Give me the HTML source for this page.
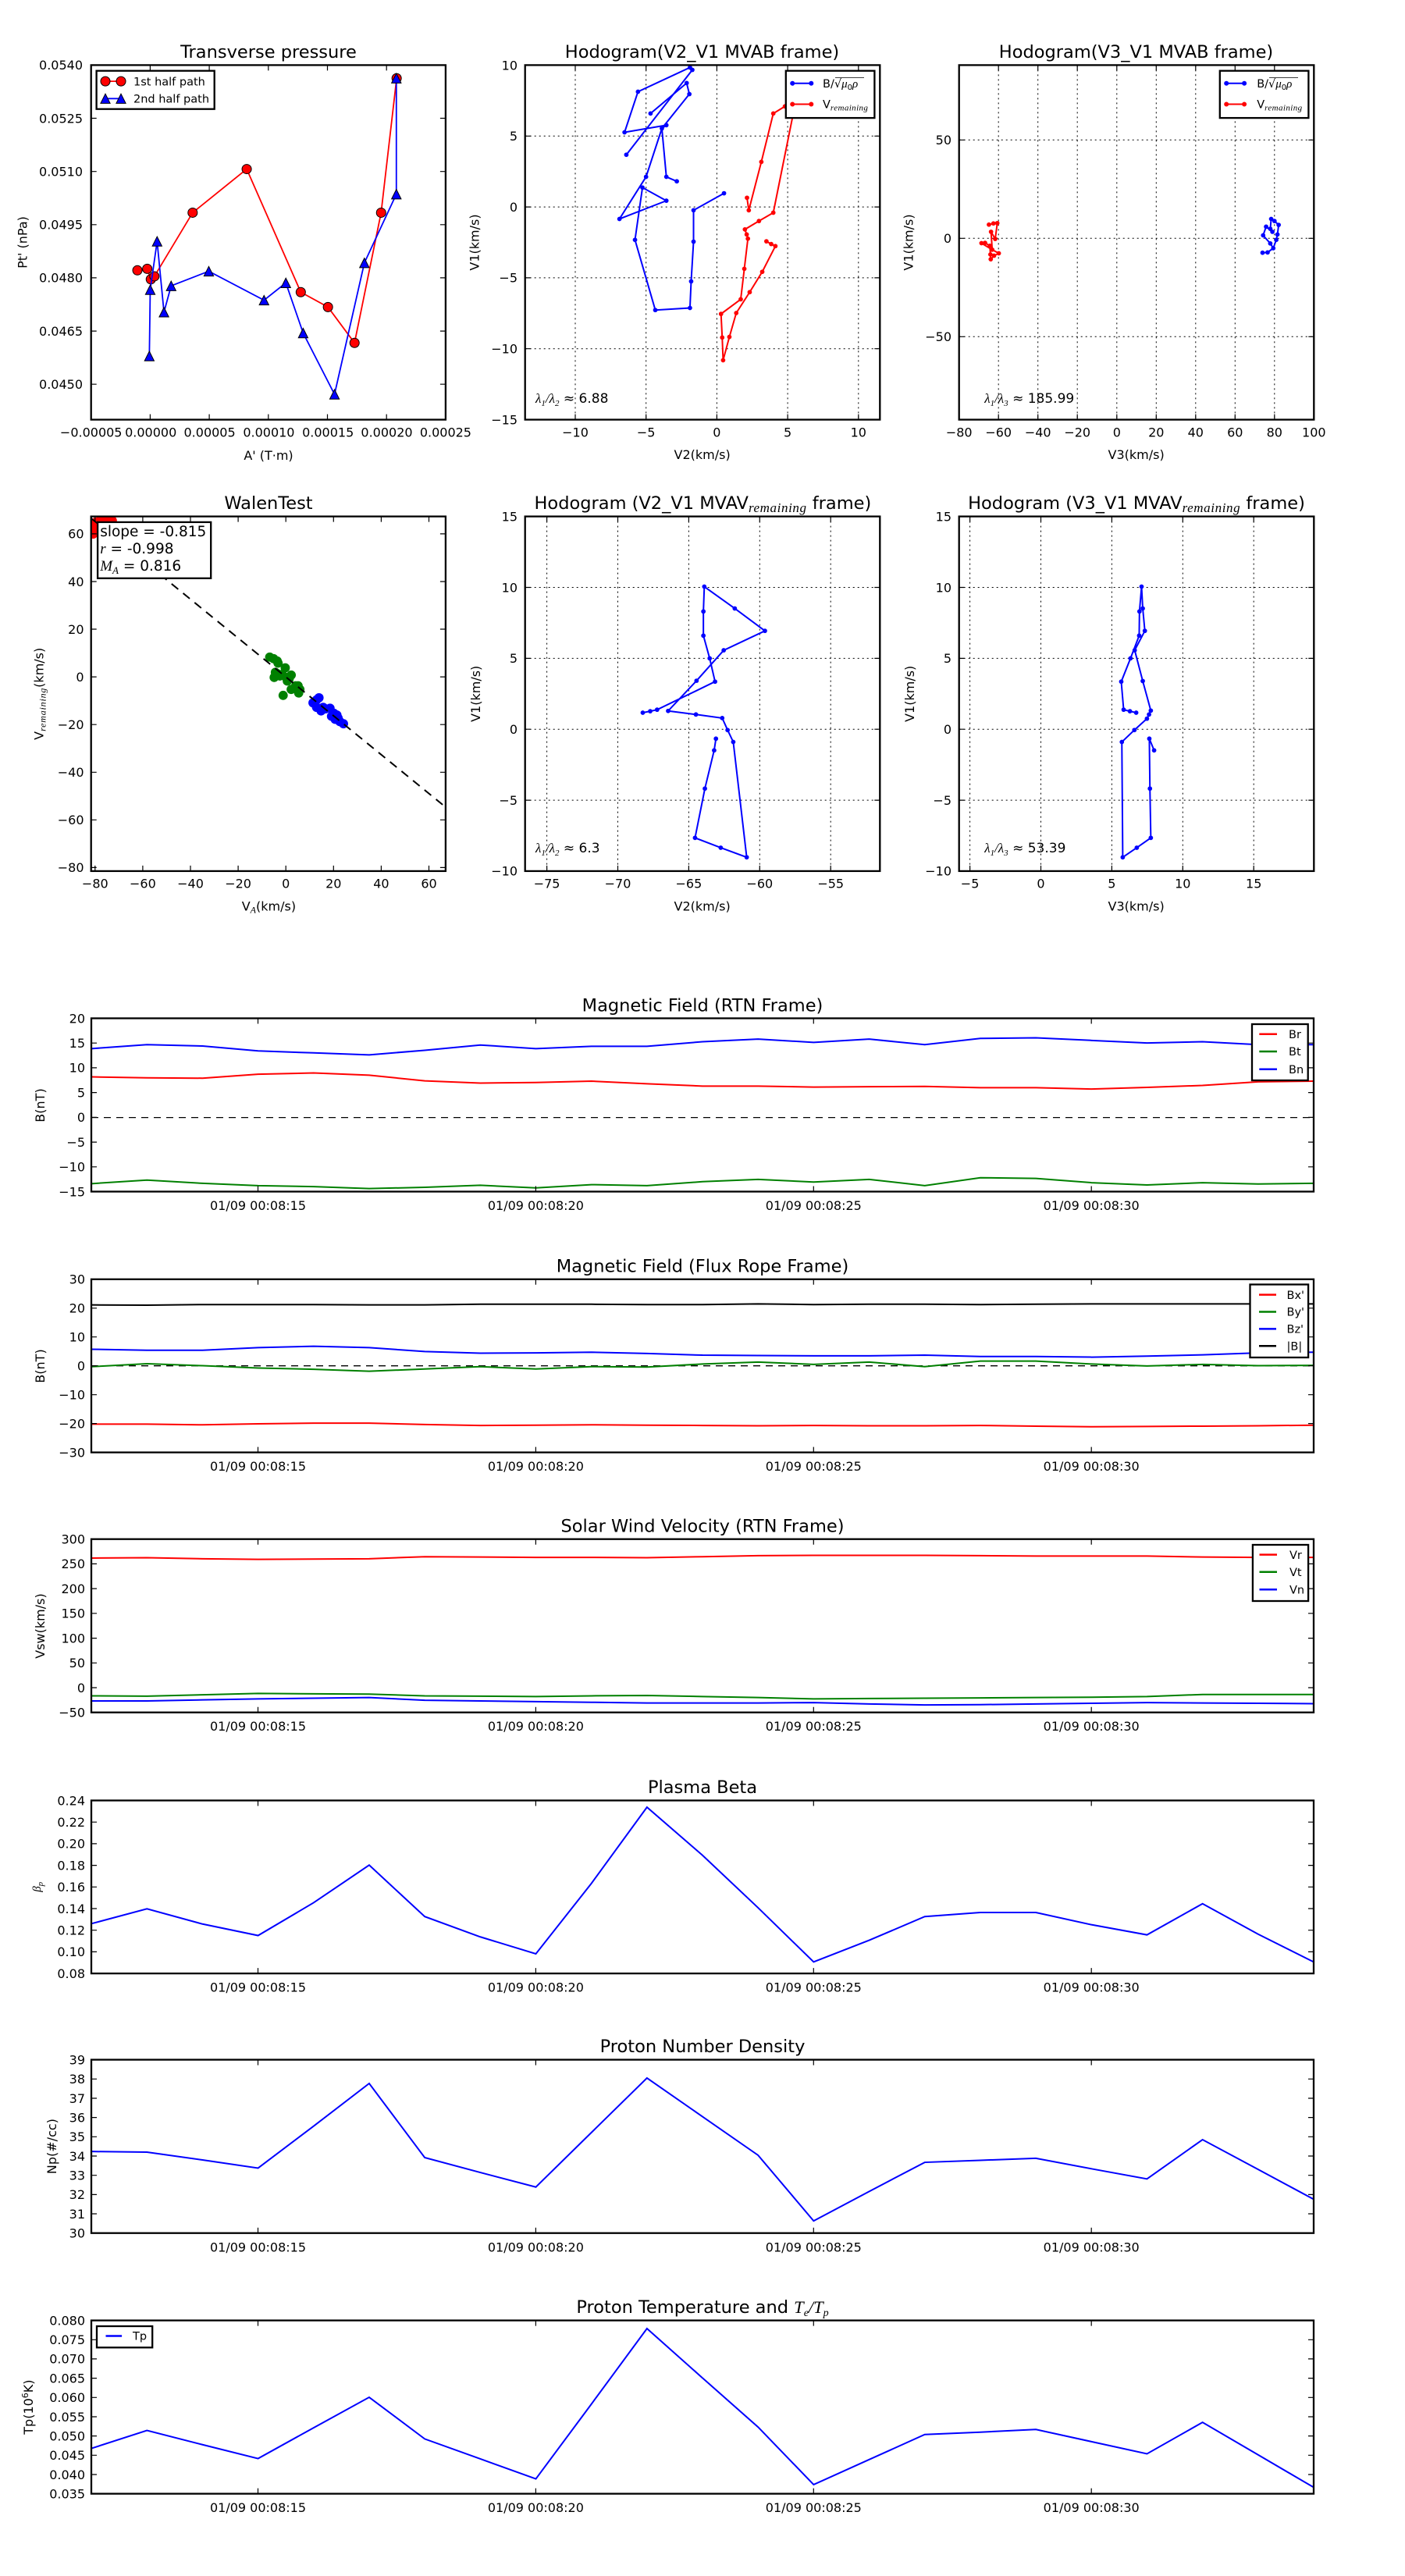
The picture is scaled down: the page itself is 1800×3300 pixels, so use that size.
<!DOCTYPE html>
<html><head><meta charset="utf-8"><title>Flux rope analysis</title>
<style>
html,body{margin:0;padding:0;background:#fff;}
svg{display:block;}
.z *{vector-effect:non-scaling-stroke;}
.ax{fill:none;stroke:#000;stroke-width:2.3;}
.tk{fill:none;stroke:#000;stroke-width:1.2;}
.gr{fill:none;stroke:#000;stroke-width:1;stroke-dasharray:2 4;}
.t16{font-size:16px;}
.title{font-size:22.5px;text-anchor:middle;}
.m{font-family:'Liberation Serif',serif;font-style:italic;}
.lg{font-size:14.5px;}
.dl{fill:none;stroke-width:2;}
</style></head>
<body>
<svg xmlns="http://www.w3.org/2000/svg" width="1800" height="3300" viewBox="0 0 1800 3300" font-family="'DejaVu Sans','Liberation Sans',sans-serif">
<defs>
<clipPath id="cw"><rect x="116.7" y="661.6" width="454.2" height="454.3"/></clipPath>
</defs>
<rect width="1800" height="3300" fill="#fff"/>

<!-- ================= PLOT 1: Transverse pressure ================= -->
<g class="z" transform="translate(0,0) scale(0.38265)">
<polyline fill="none" stroke="#f00" stroke-width="1.8" points="460,905 493,900 505,935 517,925 645,712 826,566 1007,978 1098,1028 1187,1148 1276,712 1328,262"/>
<g fill="#f00" stroke="#000" stroke-width="1">
<circle cx="460" cy="905" r="15.7"/><circle cx="493" cy="900" r="15.7"/><circle cx="505" cy="935" r="15.7"/><circle cx="517" cy="925" r="15.7"/><circle cx="645" cy="712" r="15.7"/><circle cx="826" cy="566" r="15.7"/><circle cx="1007" cy="978" r="15.7"/><circle cx="1098" cy="1028" r="15.7"/><circle cx="1187" cy="1148" r="15.7"/><circle cx="1276" cy="712" r="15.7"/><circle cx="1328" cy="262" r="15.7"/>
</g>
<polyline fill="none" stroke="#00f" stroke-width="1.8" points="500,1192 503,970 526,808 549,1045 573,957 699,908 884,1005 957,947 1015,1115 1120,1320 1220,880 1327,650 1327,262"/>
<g fill="#00f" stroke="#000" stroke-width="1">
<polygon points="500,1176 484,1208 516,1208"/><polygon points="503,954 487,986 519,986"/><polygon points="526,792 510,824 542,824"/><polygon points="549,1029 533,1061 565,1061"/><polygon points="573,941 557,973 589,973"/><polygon points="699,892 683,924 715,924"/><polygon points="884,989 868,1021 900,1021"/><polygon points="957,931 941,963 973,963"/><polygon points="1015,1099 999,1131 1031,1131"/><polygon points="1120,1304 1104,1336 1136,1336"/><polygon points="1220,864 1204,896 1236,896"/><polygon points="1327,634 1311,666 1343,666"/><polygon points="1327,246 1311,278 1343,278"/>
</g>
</g>
<rect class="ax" x="116.7" y="83.4" width="454.2" height="454.2"/>
<path class="tk" d="M192.4 537.6v-7M268.1 537.6v-7M343.8 537.6v-7M419.5 537.6v-7M495.2 537.6v-7M192.4 83.4v7M268.1 83.4v7M343.8 83.4v7M419.5 83.4v7M495.2 83.4v7M116.7 151.5h7M116.7 219.7h7M116.7 287.8h7M116.7 355.9h7M116.7 424.1h7M116.7 492.2h7M570.9 151.5h-7M570.9 219.7h-7M570.9 287.8h-7M570.9 355.9h-7M570.9 424.1h-7M570.9 492.2h-7"/>
<!-- legend -->
<rect x="123.6" y="90.7" width="151.1" height="49" fill="#fff" stroke="#000" stroke-width="2.3"/>
<line x1="135" y1="104.1" x2="155" y2="104.1" stroke="#f00" stroke-width="1.8"/>
<circle cx="135" cy="104.1" r="6" fill="#f00" stroke="#000"/><circle cx="155" cy="104.1" r="6" fill="#f00" stroke="#000"/>
<line x1="135" y1="126.3" x2="155" y2="126.3" stroke="#00f" stroke-width="1.8"/>
<polygon points="135,120.2 128.9,132.4 141.1,132.4" fill="#00f" stroke="#000"/><polygon points="155,120.2 148.9,132.4 161.1,132.4" fill="#00f" stroke="#000"/>
<text class="lg" x="171" y="109.3">1st half path</text>
<text class="lg" x="171" y="131.5">2nd half path</text>
<text class="title" x="344" y="74">Transverse pressure</text>
<g class="t16" text-anchor="end">
<text x="106" y="89.2">0.0540</text><text x="106" y="157.3">0.0525</text><text x="106" y="225.5">0.0510</text><text x="106" y="293.6">0.0495</text><text x="106" y="361.7">0.0480</text><text x="106" y="429.9">0.0465</text><text x="106" y="498">0.0450</text>
</g>
<g class="t16" text-anchor="middle">
<text x="116.7" y="559.5">−0.00005</text><text x="193.2" y="559.5">0.00000</text><text x="268.6" y="559.5">0.00005</text><text x="344.4" y="559.5">0.00010</text><text x="420.2" y="559.5">0.00015</text><text x="495.5" y="559.5">0.00020</text><text x="570.9" y="559.5">0.00025</text>
<text x="344" y="589">A' (T·m)</text>
<text transform="translate(34.5,310.5) rotate(-90)">Pt' (nPa)</text>
</g>

<!-- ================= PLOT 2: Hodogram V2_V1 MVAB ================= -->
<path class="gr" d="M737 83.4V537.6M827.7 83.4V537.6M918.4 83.4V537.6M1009.1 83.4V537.6M1099.8 83.4V537.6M672.7 174.3H1127.3M672.7 265.1H1127.3M672.7 355.9H1127.3M672.7 446.7H1127.3"/>
<g class="z" transform="translate(600,0) scale(0.38265)">
<polyline class="dl" stroke="#00f" points="529,518 750,234 742,226 568,307 523,443 663,419 648,430 663,592 698,607"/>
<polyline class="dl" stroke="#00f" points="610,380 731,278 740,315 648,430 595,592 506,733 663,672 583,628 558,803 626,1038 742,1031 746,942 754,809 754,704 856,647"/>
<g fill="#00f">
<circle cx="529" cy="518" r="7.5"/><circle cx="750" cy="234" r="7.5"/><circle cx="742" cy="226" r="7.5"/><circle cx="568" cy="307" r="7.5"/><circle cx="523" cy="443" r="7.5"/><circle cx="663" cy="419" r="7.5"/><circle cx="648" cy="430" r="7.5"/><circle cx="663" cy="592" r="7.5"/><circle cx="698" cy="607" r="7.5"/><circle cx="610" cy="380" r="7.5"/><circle cx="731" cy="278" r="7.5"/><circle cx="740" cy="315" r="7.5"/><circle cx="595" cy="592" r="7.5"/><circle cx="506" cy="733" r="7.5"/><circle cx="663" cy="672" r="7.5"/><circle cx="583" cy="628" r="7.5"/><circle cx="558" cy="803" r="7.5"/><circle cx="626" cy="1038" r="7.5"/><circle cx="742" cy="1031" r="7.5"/><circle cx="746" cy="942" r="7.5"/><circle cx="754" cy="809" r="7.5"/><circle cx="754" cy="704" r="7.5"/><circle cx="856" cy="647" r="7.5"/>
</g>
<polyline class="dl" stroke="#f00" points="933,662 939,704 981,542 1021,380 1060,356 1110,270 1021,712 973,740 926,768 932,785 936,799 924,900 912,1002 846,1051 850,1130 853,1206 874,1128 897,1048 942,978 984,910 1028,824 1014,817 998,808"/>
<g fill="#f00">
<circle cx="933" cy="662" r="7.5"/><circle cx="939" cy="704" r="7.5"/><circle cx="981" cy="542" r="7.5"/><circle cx="1021" cy="380" r="7.5"/><circle cx="1060" cy="356" r="7.5"/><circle cx="1021" cy="712" r="7.5"/><circle cx="973" cy="740" r="7.5"/><circle cx="926" cy="768" r="7.5"/><circle cx="932" cy="785" r="7.5"/><circle cx="936" cy="799" r="7.5"/><circle cx="924" cy="900" r="7.5"/><circle cx="912" cy="1002" r="7.5"/><circle cx="846" cy="1051" r="7.5"/><circle cx="850" cy="1130" r="7.5"/><circle cx="853" cy="1206" r="7.5"/><circle cx="874" cy="1128" r="7.5"/><circle cx="897" cy="1048" r="7.5"/><circle cx="942" cy="978" r="7.5"/><circle cx="984" cy="910" r="7.5"/><circle cx="1028" cy="824" r="7.5"/><circle cx="1014" cy="817" r="7.5"/><circle cx="998" cy="808" r="7.5"/>
</g>
</g>
<rect class="ax" x="672.7" y="83.4" width="454.6" height="454.2"/>
<path class="tk" d="M737 537.6v-7M827.7 537.6v-7M918.4 537.6v-7M1009.1 537.6v-7M1099.8 537.6v-7M737 83.4v7M827.7 83.4v7M918.4 83.4v7M1009.1 83.4v7M1099.8 83.4v7M672.7 174.3h7M672.7 265.1h7M672.7 355.9h7M672.7 446.7h7M1127.3 174.3h-7M1127.3 265.1h-7M1127.3 355.9h-7M1127.3 446.7h-7"/>
<rect x="1006.8" y="90.7" width="113.6" height="60.4" fill="#fff" stroke="#000" stroke-width="2.3"/>
<line x1="1015.2" y1="106.8" x2="1039.3" y2="106.8" stroke="#00f" stroke-width="2"/>
<circle cx="1015.2" cy="106.8" r="3" fill="#00f"/><circle cx="1039.3" cy="106.8" r="3" fill="#00f"/>
<line x1="1015.2" y1="133.5" x2="1039.3" y2="133.5" stroke="#f00" stroke-width="2"/>
<circle cx="1015.2" cy="133.5" r="3" fill="#f00"/><circle cx="1039.3" cy="133.5" r="3" fill="#f00"/>
<text font-size="14.5" x="1054" y="112">B/√<tspan class="m" font-size="15">μ</tspan><tspan font-size="10" dy="3">0</tspan><tspan class="m" font-size="15" dy="-3">ρ</tspan></text>
<line x1="1070" y1="99.5" x2="1107" y2="99.5" stroke="#000" stroke-width="0.8"/>
<text font-size="14.5" x="1054" y="138.5">V<tspan class="m" font-size="11" letter-spacing="0.4" dy="3">remaining</tspan></text>
<text font-size="17" x="686" y="516"><tspan class="m">λ</tspan><tspan class="m" font-size="11" dy="4">1</tspan><tspan class="m" dy="-4">/</tspan><tspan class="m">λ</tspan><tspan class="m" font-size="11" dy="4">2</tspan><tspan dy="-4"> ≈ 6.88</tspan></text>
<text class="title" x="899.5" y="74">Hodogram(V2_V1 MVAB frame)</text>
<g class="t16" text-anchor="end">
<text x="663" y="89.3">10</text><text x="663" y="180.1">5</text><text x="663" y="270.9">0</text><text x="663" y="361.7">−5</text><text x="663" y="452.5">−10</text><text x="663" y="543.3">−15</text>
</g>
<g class="t16" text-anchor="middle">
<text x="737" y="559.5">−10</text><text x="827.7" y="559.5">−5</text><text x="918.4" y="559.5">0</text><text x="1009.1" y="559.5">5</text><text x="1099.8" y="559.5">10</text>
<text x="899.6" y="588">V2(km/s)</text>
<text transform="translate(613.5,310.5) rotate(-90)">V1(km/s)</text>
</g>

<!-- ================= PLOT 3: Hodogram V3_V1 MVAB ================= -->
<path class="gr" d="M1279.2 83.4V537.6M1329.7 83.4V537.6M1380.2 83.4V537.6M1430.8 83.4V537.6M1481.3 83.4V537.6M1531.8 83.4V537.6M1582.3 83.4V537.6M1632.8 83.4V537.6M1228.7 179.3H1683.3M1228.7 305.3H1683.3M1228.7 431.3H1683.3"/>
<g class="z" transform="translate(1200,0) scale(0.38265)">
<polyline class="dl" stroke="#00f" points="1091,846 1108,845 1127,831 1137,803 1141,785 1145,753 1131,740 1120,733 1117,766 1124,776 1103,759 1093,788 1117,815 1127,831"/>
<g fill="#00f">
<circle cx="1091" cy="846" r="7.5"/><circle cx="1108" cy="845" r="7.5"/><circle cx="1127" cy="831" r="7.5"/><circle cx="1137" cy="803" r="7.5"/><circle cx="1141" cy="785" r="7.5"/><circle cx="1145" cy="753" r="7.5"/><circle cx="1131" cy="740" r="7.5"/><circle cx="1120" cy="733" r="7.5"/><circle cx="1117" cy="766" r="7.5"/><circle cx="1124" cy="776" r="7.5"/><circle cx="1103" cy="759" r="7.5"/><circle cx="1093" cy="788" r="7.5"/><circle cx="1117" cy="815" r="7.5"/>
</g>
<polyline class="dl" stroke="#f00" points="175,752 190,748 203,747 196,800 182,776 186,836 150,814 162,813 178,823 180,852 181,868 192,856 208,848 186,836"/>
<g fill="#f00">
<circle cx="175" cy="752" r="7.5"/><circle cx="190" cy="748" r="7.5"/><circle cx="203" cy="747" r="7.5"/><circle cx="196" cy="800" r="7.5"/><circle cx="182" cy="776" r="7.5"/><circle cx="186" cy="836" r="7.5"/><circle cx="150" cy="814" r="7.5"/><circle cx="162" cy="813" r="7.5"/><circle cx="178" cy="823" r="7.5"/><circle cx="180" cy="852" r="7.5"/><circle cx="181" cy="868" r="7.5"/><circle cx="192" cy="856" r="7.5"/><circle cx="208" cy="848" r="7.5"/>
</g>
</g>
<rect class="ax" x="1228.7" y="83.4" width="454.6" height="454.2"/>
<path class="tk" d="M1279.2 537.6v-7M1329.7 537.6v-7M1380.2 537.6v-7M1430.8 537.6v-7M1481.3 537.6v-7M1531.8 537.6v-7M1582.3 537.6v-7M1632.8 537.6v-7M1279.2 83.4v7M1329.7 83.4v7M1380.2 83.4v7M1430.8 83.4v7M1481.3 83.4v7M1531.8 83.4v7M1582.3 83.4v7M1632.8 83.4v7M1228.7 179.3h7M1228.7 305.3h7M1228.7 431.3h7M1683.3 179.3h-7M1683.3 305.3h-7M1683.3 431.3h-7"/>
<rect x="1562.8" y="90.7" width="113.6" height="60.4" fill="#fff" stroke="#000" stroke-width="2.3"/>
<line x1="1571.2" y1="106.8" x2="1594.1" y2="106.8" stroke="#00f" stroke-width="2"/>
<circle cx="1571.2" cy="106.8" r="3" fill="#00f"/><circle cx="1594.1" cy="106.8" r="3" fill="#00f"/>
<line x1="1571.2" y1="133.5" x2="1594.1" y2="133.5" stroke="#f00" stroke-width="2"/>
<circle cx="1571.2" cy="133.5" r="3" fill="#f00"/><circle cx="1594.1" cy="133.5" r="3" fill="#f00"/>
<text font-size="14.5" x="1610.2" y="112">B/√<tspan class="m" font-size="15">μ</tspan><tspan font-size="10" dy="3">0</tspan><tspan class="m" font-size="15" dy="-3">ρ</tspan></text>
<line x1="1626" y1="99.5" x2="1663" y2="99.5" stroke="#000" stroke-width="0.8"/>
<text font-size="14.5" x="1610.2" y="138.5">V<tspan class="m" font-size="11" letter-spacing="0.4" dy="3">remaining</tspan></text>
<text font-size="17" x="1261.2" y="516"><tspan class="m">λ</tspan><tspan class="m" font-size="11" dy="4">1</tspan><tspan class="m" dy="-4">/</tspan><tspan class="m">λ</tspan><tspan class="m" font-size="11" dy="4">3</tspan><tspan dy="-4"> ≈ 185.99</tspan></text>
<text class="title" x="1455.5" y="74">Hodogram(V3_V1 MVAB frame)</text>
<g class="t16" text-anchor="end">
<text x="1219" y="185.1">50</text><text x="1219" y="311.1">0</text><text x="1219" y="437.1">−50</text>
</g>
<g class="t16" text-anchor="middle">
<text x="1228.7" y="559.5">−80</text><text x="1279.2" y="559.5">−60</text><text x="1329.7" y="559.5">−40</text><text x="1380.2" y="559.5">−20</text><text x="1430.8" y="559.5">0</text><text x="1481.3" y="559.5">20</text><text x="1531.8" y="559.5">40</text><text x="1582.3" y="559.5">60</text><text x="1632.8" y="559.5">80</text><text x="1683.3" y="559.5">100</text>
<text x="1455.6" y="588">V3(km/s)</text>
<text transform="translate(1169.5,310.5) rotate(-90)">V1(km/s)</text>
</g>

<!-- ================= PLOT 4: WalenTest ================= -->
<g clip-path="url(#cw)">
<g class="z" transform="translate(0,600) scale(0.38265)">
<g fill="#f00">
<circle cx="312" cy="220" r="15.5"/><circle cx="316" cy="200" r="15.5"/><circle cx="320" cy="180" r="15.5"/><circle cx="336" cy="172" r="15.5"/><circle cx="355" cy="172" r="15.5"/><circle cx="376" cy="175" r="15.5"/>
</g>
<g fill="#008000">
<circle cx="903" cy="632" r="15.5"/><circle cx="916" cy="637" r="15.5"/><circle cx="928" cy="645" r="15.5"/><circle cx="931" cy="652" r="15.5"/><circle cx="922" cy="683" r="15.5"/><circle cx="918" cy="700" r="15.5"/><circle cx="930" cy="688" r="15.5"/><circle cx="955" cy="668" r="15.5"/><circle cx="945" cy="690" r="15.5"/><circle cx="958" cy="700" r="15.5"/><circle cx="975" cy="692" r="15.5"/><circle cx="962" cy="712" r="15.5"/><circle cx="975" cy="740" r="15.5"/><circle cx="990" cy="728" r="15.5"/><circle cx="998" cy="728" r="15.5"/><circle cx="1004" cy="740" r="15.5"/><circle cx="1000" cy="752" r="15.5"/><circle cx="948" cy="760" r="15.5"/><circle cx="937" cy="695" r="15.5"/><circle cx="968" cy="705" r="15.5"/>
</g>
<g fill="#00f">
<circle cx="1048" cy="785" r="15.5"/><circle cx="1060" cy="775" r="15.5"/><circle cx="1068" cy="768" r="15.5"/><circle cx="1060" cy="800" r="15.5"/><circle cx="1075" cy="812" r="15.5"/><circle cx="1082" cy="800" r="15.5"/><circle cx="1090" cy="805" r="15.5"/><circle cx="1105" cy="803" r="15.5"/><circle cx="1110" cy="830" r="15.5"/><circle cx="1118" cy="820" r="15.5"/><circle cx="1128" cy="826" r="15.5"/><circle cx="1138" cy="848" r="15.5"/><circle cx="1150" cy="855" r="15.5"/><circle cx="1122" cy="840" r="15.5"/><circle cx="1132" cy="836" r="15.5"/>
</g>
</g>
<line x1="116.7" y1="663.9" x2="570.9" y2="1034" stroke="#000" stroke-width="2" stroke-dasharray="11 8"/>
</g>
<rect class="ax" x="116.7" y="661.6" width="454.2" height="454.3"/>
<path class="tk" d="M121.8 1115.9v-7M182.9 1115.9v-7M244 1115.9v-7M305.1 1115.9v-7M366.2 1115.9v-7M427.3 1115.9v-7M488.4 1115.9v-7M549.5 1115.9v-7M121.8 661.6v7M182.9 661.6v7M244 661.6v7M305.1 661.6v7M366.2 661.6v7M427.3 661.6v7M488.4 661.6v7M549.5 661.6v7M116.7 683.9h7M116.7 745h7M116.7 806h7M116.7 867.1h7M116.7 928.2h7M116.7 989.3h7M116.7 1050.3h7M116.7 1111.4h7M570.9 683.9h-7M570.9 745h-7M570.9 806h-7M570.9 867.1h-7M570.9 928.2h-7M570.9 989.3h-7M570.9 1050.3h-7M570.9 1111.4h-7"/>
<rect x="125.1" y="668.9" width="145.1" height="71.9" fill="#fff" stroke="#000" stroke-width="2.3"/>
<text font-size="18.5" x="128.2" y="687">slope = -0.815</text>
<text font-size="18.5" x="128.2" y="709"><tspan class="m" font-size="19">r</tspan> = -0.998</text>
<text font-size="18.5" x="128.2" y="731"><tspan class="m" font-size="19">M</tspan><tspan class="m" font-size="13" dy="4">A</tspan><tspan dy="-4"> = 0.816</tspan></text>
<text class="title" x="344" y="652">WalenTest</text>
<g class="t16" text-anchor="end">
<text x="107.5" y="689.7">60</text><text x="107.5" y="750.8">40</text><text x="107.5" y="811.8">20</text><text x="107.5" y="872.9">0</text><text x="107.5" y="934">−20</text><text x="107.5" y="995.1">−40</text><text x="107.5" y="1056.1">−60</text><text x="107.5" y="1117.2">−80</text>
</g>
<g class="t16" text-anchor="middle">
<text x="121.8" y="1137.5">−80</text><text x="182.9" y="1137.5">−60</text><text x="244" y="1137.5">−40</text><text x="305.1" y="1137.5">−20</text><text x="366.2" y="1137.5">0</text><text x="427.3" y="1137.5">20</text><text x="488.4" y="1137.5">40</text><text x="549.5" y="1137.5">60</text>
<text x="344.4" y="1166.5">V<tspan class="m" font-size="12" dy="3">A</tspan><tspan dy="-3">(km/s)</tspan></text>
<text transform="translate(55.5,888.8) rotate(-90)">V<tspan class="m" font-size="12" letter-spacing="0.8" dy="3">remaining</tspan><tspan dy="-3">(km/s)</tspan></text>
</g>

<!-- ================= PLOT 5: Hodogram V2_V1 MVAV ================= -->
<path class="gr" d="M700.6 661.6V1115.9M791.5 661.6V1115.9M882.4 661.6V1115.9M973.3 661.6V1115.9M1064.2 661.6V1115.9M672.7 752.5H1127.3M672.7 843.4H1127.3M672.7 934.2H1127.3M672.7 1025.1H1127.3"/>
<g class="z" transform="translate(600,600) scale(0.38265)">
<polyline class="dl" stroke="#00f" points="584,818 609,813 632,808 826,714 808,636 787,560 787,479 790,396 892,469 993,544 855,609 764,711 669,812 762,824 850,836 868,876 887,916 932,1302 845,1270 759,1237 792,1072 823,944 829,905"/>
<g fill="#00f">
<circle cx="584" cy="818" r="7.5"/><circle cx="609" cy="813" r="7.5"/><circle cx="632" cy="808" r="7.5"/><circle cx="826" cy="714" r="7.5"/><circle cx="808" cy="636" r="7.5"/><circle cx="787" cy="560" r="7.5"/><circle cx="787" cy="479" r="7.5"/><circle cx="790" cy="396" r="7.5"/><circle cx="892" cy="469" r="7.5"/><circle cx="993" cy="544" r="7.5"/><circle cx="855" cy="609" r="7.5"/><circle cx="764" cy="711" r="7.5"/><circle cx="669" cy="812" r="7.5"/><circle cx="762" cy="824" r="7.5"/><circle cx="850" cy="836" r="7.5"/><circle cx="868" cy="876" r="7.5"/><circle cx="887" cy="916" r="7.5"/><circle cx="932" cy="1302" r="7.5"/><circle cx="845" cy="1270" r="7.5"/><circle cx="759" cy="1237" r="7.5"/><circle cx="792" cy="1072" r="7.5"/><circle cx="823" cy="944" r="7.5"/><circle cx="829" cy="905" r="7.5"/>
</g>
</g>
<rect class="ax" x="672.7" y="661.6" width="454.6" height="454.3"/>
<path class="tk" d="M700.6 1115.9v-7M791.5 1115.9v-7M882.4 1115.9v-7M973.3 1115.9v-7M1064.2 1115.9v-7M700.6 661.6v7M791.5 661.6v7M882.4 661.6v7M973.3 661.6v7M1064.2 661.6v7M672.7 752.5h7M672.7 843.4h7M672.7 934.2h7M672.7 1025.1h7M1127.3 752.5h-7M1127.3 843.4h-7M1127.3 934.2h-7M1127.3 1025.1h-7"/>
<text font-size="17" x="686" y="1092"><tspan class="m">λ</tspan><tspan class="m" font-size="11" dy="4">1</tspan><tspan class="m" dy="-4">/</tspan><tspan class="m">λ</tspan><tspan class="m" font-size="11" dy="4">2</tspan><tspan dy="-4"> ≈ 6.3</tspan></text>
<text class="title" x="900.4" y="652">Hodogram (V2_V1 MVAV<tspan class="m" font-size="17" letter-spacing="0.6" dy="4">remaining</tspan><tspan dy="-4"> frame)</tspan></text>
<g class="t16" text-anchor="end">
<text x="663" y="667.4">15</text><text x="663" y="758.3">10</text><text x="663" y="849.2">5</text><text x="663" y="940">0</text><text x="663" y="1030.9">−5</text><text x="663" y="1121.7">−10</text>
</g>
<g class="t16" text-anchor="middle">
<text x="700.6" y="1137.5">−75</text><text x="791.5" y="1137.5">−70</text><text x="882.4" y="1137.5">−65</text><text x="973.3" y="1137.5">−60</text><text x="1064.2" y="1137.5">−55</text>
<text x="899.6" y="1166.5">V2(km/s)</text>
<text transform="translate(615,888.8) rotate(-90)">V1(km/s)</text>
</g>

<!-- ================= PLOT 6: Hodogram V3_V1 MVAV ================= -->
<path class="gr" d="M1242.6 661.6V1115.9M1333.5 661.6V1115.9M1424.4 661.6V1115.9M1515.3 661.6V1115.9M1606.2 661.6V1115.9M1228.7 752.5H1683.3M1228.7 843.4H1683.3M1228.7 934.2H1683.3M1228.7 1025.1H1683.3"/>
<g class="z" transform="translate(1200,600) scale(0.38265)">
<polyline class="dl" stroke="#00f" points="668,818 647,813 626,808 618,714 649,636 678,560 679,479 686,396 690,469 697,544 663,609 690,712 717,811 711,824 704,838 662,876 620,916 623,1302 670,1270 717,1237 714,1072 712,905 728,944"/>
<g fill="#00f">
<circle cx="668" cy="818" r="7.5"/><circle cx="647" cy="813" r="7.5"/><circle cx="626" cy="808" r="7.5"/><circle cx="618" cy="714" r="7.5"/><circle cx="649" cy="636" r="7.5"/><circle cx="678" cy="560" r="7.5"/><circle cx="679" cy="479" r="7.5"/><circle cx="686" cy="396" r="7.5"/><circle cx="690" cy="469" r="7.5"/><circle cx="697" cy="544" r="7.5"/><circle cx="663" cy="609" r="7.5"/><circle cx="690" cy="712" r="7.5"/><circle cx="717" cy="811" r="7.5"/><circle cx="711" cy="824" r="7.5"/><circle cx="704" cy="838" r="7.5"/><circle cx="662" cy="876" r="7.5"/><circle cx="620" cy="916" r="7.5"/><circle cx="623" cy="1302" r="7.5"/><circle cx="670" cy="1270" r="7.5"/><circle cx="717" cy="1237" r="7.5"/><circle cx="714" cy="1072" r="7.5"/><circle cx="712" cy="905" r="7.5"/><circle cx="728" cy="944" r="7.5"/>
</g>
</g>
<rect class="ax" x="1228.7" y="661.6" width="454.6" height="454.3"/>
<path class="tk" d="M1242.6 1115.9v-7M1333.5 1115.9v-7M1424.4 1115.9v-7M1515.3 1115.9v-7M1606.2 1115.9v-7M1242.6 661.6v7M1333.5 661.6v7M1424.4 661.6v7M1515.3 661.6v7M1606.2 661.6v7M1228.7 752.5h7M1228.7 843.4h7M1228.7 934.2h7M1228.7 1025.1h7M1683.3 752.5h-7M1683.3 843.4h-7M1683.3 934.2h-7M1683.3 1025.1h-7"/>
<text font-size="17" x="1261.2" y="1092"><tspan class="m">λ</tspan><tspan class="m" font-size="11" dy="4">1</tspan><tspan class="m" dy="-4">/</tspan><tspan class="m">λ</tspan><tspan class="m" font-size="11" dy="4">3</tspan><tspan dy="-4"> ≈ 53.39</tspan></text>
<text class="title" x="1456" y="652">Hodogram (V3_V1 MVAV<tspan class="m" font-size="17" letter-spacing="0.6" dy="4">remaining</tspan><tspan dy="-4"> frame)</tspan></text>
<g class="t16" text-anchor="end">
<text x="1219" y="667.4">15</text><text x="1219" y="758.3">10</text><text x="1219" y="849.2">5</text><text x="1219" y="940">0</text><text x="1219" y="1030.9">−5</text><text x="1219" y="1121.7">−10</text>
</g>
<g class="t16" text-anchor="middle">
<text x="1242.6" y="1137.5">−5</text><text x="1333.5" y="1137.5">0</text><text x="1424.4" y="1137.5">5</text><text x="1515.3" y="1137.5">10</text><text x="1606.2" y="1137.5">15</text>
<text x="1455.6" y="1166.5">V3(km/s)</text>
<text transform="translate(1171,888.8) rotate(-90)">V1(km/s)</text>
</g>

<!-- ================= TS1: Magnetic Field RTN ================= -->
<line x1="117" y1="1431.6" x2="1683" y2="1431.6" stroke="#000" stroke-width="1.3" stroke-dasharray="9 7"/>
<g class="z" transform="translate(0,1260) scale(1.148,0.4209)">
<polyline class="dl" stroke="#f00" points="102,284 164,287 226,288 288,276 350,272 412,279 474,296 536,303 598,301 660,297 722,305 784,312 846,312 908,315 970,314 1032,313 1094,317 1156,317 1218,321 1280,316 1342,310 1404,299 1466,297"/>
<polyline class="dl" stroke="#008000" points="102,609 164,598 226,608 288,615 350,618 412,624 474,620 536,614 598,622 660,612 722,615 784,603 846,596 908,604 970,596 1032,615 1094,591 1156,593 1218,606 1280,613 1342,606 1404,610 1466,608"/>
<polyline class="dl" stroke="#00f" points="102,198 164,186 226,190 288,205 350,211 412,217 474,203 536,187 598,198 660,191 722,191 784,177 846,169 908,179 970,169 1032,186 1094,167 1156,165 1218,173 1280,181 1342,177 1404,186 1466,186"/>
</g>
<rect class="ax" x="117" y="1304.5" width="1566" height="222"/>
<path class="tk" d="M330.5 1526.5v-7M686.4 1526.5v-7M1042.3 1526.5v-7M1398.2 1526.5v-7M330.5 1304.5v7M686.4 1304.5v7M1042.3 1304.5v7M1398.2 1304.5v7M117 1336.2h7M117 1367.9h7M117 1399.6h7M117 1431.4h7M117 1463.1h7M117 1494.8h7M1683 1336.2h-7M1683 1367.9h-7M1683 1399.6h-7M1683 1431.4h-7M1683 1463.1h-7M1683 1494.8h-7"/>
<rect x="1604" y="1312" width="71.7" height="72" fill="#fff" stroke="#000" stroke-width="2.3"/>
<line x1="1613.3" y1="1324.7" x2="1636" y2="1324.7" stroke="#f00" stroke-width="2.5"/>
<line x1="1613.3" y1="1347" x2="1636" y2="1347" stroke="#008000" stroke-width="2.5"/>
<line x1="1613.3" y1="1369.7" x2="1636" y2="1369.7" stroke="#00f" stroke-width="2.5"/>
<text class="lg" x="1651" y="1329.9">Br</text><text class="lg" x="1651" y="1352.2">Bt</text><text class="lg" x="1651" y="1374.9">Bn</text>
<text class="title" x="900" y="1295.5">Magnetic Field (RTN Frame)</text>
<g class="t16" text-anchor="end">
<text x="109" y="1310.3">20</text><text x="109" y="1342">15</text><text x="109" y="1373.7">10</text><text x="109" y="1405.4">5</text><text x="109" y="1437.2">0</text><text x="109" y="1468.9">−5</text><text x="109" y="1500.6">−10</text><text x="109" y="1532.3">−15</text>
</g>
<g class="t16" text-anchor="middle">
<text x="330.5" y="1550">01/09 00:08:15</text><text x="686.4" y="1550">01/09 00:08:20</text><text x="1042.3" y="1550">01/09 00:08:25</text><text x="1398.2" y="1550">01/09 00:08:30</text>
<text transform="translate(57,1416) rotate(-90)">B(nT)</text>
</g>

<!-- ================= TS2: Magnetic Field Flux Rope ================= -->
<line x1="117" y1="1749.7" x2="1683" y2="1749.7" stroke="#000" stroke-width="1.3" stroke-dasharray="9 7"/>
<g class="z" transform="translate(0,1260) scale(1.148,0.4209)">
<polyline class="dl" stroke="#f00" points="102,1341 164,1341 226,1343 288,1340 350,1338 412,1338 474,1342 536,1345 598,1344 660,1343 722,1344 784,1345 846,1346 908,1345 970,1346 1032,1346 1094,1345 1156,1347 1218,1349 1280,1348 1342,1347 1404,1346 1466,1344"/>
<polyline class="dl" stroke="#008000" points="102,1166 164,1157 226,1163 288,1170 350,1174 412,1180 474,1173 536,1166 598,1173 660,1166 722,1167 784,1158 846,1152 908,1159 970,1152 1032,1166 1094,1149 1156,1149 1218,1158 1280,1164 1342,1159 1404,1163 1466,1162"/>
<polyline class="dl" stroke="#00f" points="102,1113 164,1116 226,1116 288,1108 350,1104 412,1108 474,1120 536,1125 598,1124 660,1122 722,1126 784,1131 846,1132 908,1133 970,1133 1032,1131 1094,1135 1156,1135 1218,1137 1280,1134 1342,1130 1404,1124 1466,1122"/>
<polyline class="dl" stroke="#000" points="102,978 164,979 226,977 288,977 350,977 412,978 474,978 536,976 598,976 660,976 722,977 784,977 846,975 908,977 970,976 1032,976 1094,977 1156,976 1218,975 1280,975 1342,975 1404,975 1466,975"/>
</g>
<rect class="ax" x="117" y="1638.8" width="1566" height="221.8"/>
<path class="tk" d="M330.5 1860.6v-7M686.4 1860.6v-7M1042.3 1860.6v-7M1398.2 1860.6v-7M330.5 1638.8v7M686.4 1638.8v7M1042.3 1638.8v7M1398.2 1638.8v7M117 1675.8h7M117 1712.7h7M117 1749.7h7M117 1786.7h7M117 1823.6h7M1683 1675.8h-7M1683 1712.7h-7M1683 1749.7h-7M1683 1786.7h-7M1683 1823.6h-7"/>
<rect x="1601.5" y="1645.5" width="74.6" height="93.5" fill="#fff" stroke="#000" stroke-width="2.3"/>
<line x1="1613" y1="1658.6" x2="1635" y2="1658.6" stroke="#f00" stroke-width="2.5"/>
<line x1="1613" y1="1680.5" x2="1635" y2="1680.5" stroke="#008000" stroke-width="2.5"/>
<line x1="1613" y1="1702.4" x2="1635" y2="1702.4" stroke="#00f" stroke-width="2.5"/>
<line x1="1613" y1="1724.3" x2="1635" y2="1724.3" stroke="#000" stroke-width="2.5"/>
<text class="lg" x="1648.5" y="1663.8">Bx'</text><text class="lg" x="1648.5" y="1685.7">By'</text><text class="lg" x="1648.5" y="1707.6">Bz'</text><text class="lg" x="1648.5" y="1729.5">|B|</text>
<text class="title" x="900" y="1629.5">Magnetic Field (Flux Rope Frame)</text>
<g class="t16" text-anchor="end">
<text x="109" y="1644.6">30</text><text x="109" y="1681.6">20</text><text x="109" y="1718.5">10</text><text x="109" y="1755.5">0</text><text x="109" y="1792.5">−10</text><text x="109" y="1829.4">−20</text><text x="109" y="1866.4">−30</text>
</g>
<g class="t16" text-anchor="middle">
<text x="330.5" y="1884">01/09 00:08:15</text><text x="686.4" y="1884">01/09 00:08:20</text><text x="1042.3" y="1884">01/09 00:08:25</text><text x="1398.2" y="1884">01/09 00:08:30</text>
<text transform="translate(57,1750) rotate(-90)">B(nT)</text>
</g>

<!-- ================= TS3: Solar Wind Velocity ================= -->
<g class="z" transform="translate(0,1940) scale(1.148,0.4337)">
<polyline class="dl" stroke="#f00" points="102,129 164,128 226,131 288,133 350,132 412,131 474,125 536,126 598,127 660,127 722,128 784,125 846,122 908,121 970,121 1032,121 1094,122 1156,123 1218,123 1280,123 1342,126 1404,127 1466,127"/>
<polyline class="dl" stroke="#008000" points="102,536 164,537 226,533 288,529 350,530 412,531 474,536 536,537 598,538 660,536 722,535 784,538 846,541 908,545 970,544 1032,543 1094,542 1156,541 1218,540 1280,538 1342,532 1404,532 1466,532"/>
<polyline class="dl" stroke="#00f" points="102,551 164,551 226,548 288,545 350,543 412,541 474,549 536,551 598,553 660,555 722,557 784,557 846,557 908,556 970,560 1032,563 1094,562 1156,560 1218,558 1280,556 1342,557 1404,558 1466,559"/>
</g>
<rect class="ax" x="117" y="1971.7" width="1566" height="222"/>
<path class="tk" d="M330.5 2193.7v-7M686.4 2193.7v-7M1042.3 2193.7v-7M1398.2 2193.7v-7M330.5 1971.7v7M686.4 1971.7v7M1042.3 1971.7v7M1398.2 1971.7v7M117 2003.4h7M117 2035.1h7M117 2066.8h7M117 2098.6h7M117 2130.3h7M117 2162h7M1683 2003.4h-7M1683 2035.1h-7M1683 2066.8h-7M1683 2098.6h-7M1683 2130.3h-7M1683 2162h-7"/>
<rect x="1604.9" y="1979" width="71.2" height="72" fill="#fff" stroke="#000" stroke-width="2.3"/>
<line x1="1613.5" y1="1991.6" x2="1636" y2="1991.6" stroke="#f00" stroke-width="2.5"/>
<line x1="1613.5" y1="2013.7" x2="1636" y2="2013.7" stroke="#008000" stroke-width="2.5"/>
<line x1="1613.5" y1="2036.3" x2="1636" y2="2036.3" stroke="#00f" stroke-width="2.5"/>
<text class="lg" x="1652" y="1996.8">Vr</text><text class="lg" x="1652" y="2018.9">Vt</text><text class="lg" x="1652" y="2041.5">Vn</text>
<text class="title" x="900" y="1962.5">Solar Wind Velocity (RTN Frame)</text>
<g class="t16" text-anchor="end">
<text x="109" y="1977.5">300</text><text x="109" y="2009.2">250</text><text x="109" y="2040.9">200</text><text x="109" y="2072.6">150</text><text x="109" y="2104.4">100</text><text x="109" y="2136.1">50</text><text x="109" y="2167.8">0</text><text x="109" y="2199.5">−50</text>
</g>
<g class="t16" text-anchor="middle">
<text x="330.5" y="2217">01/09 00:08:15</text><text x="686.4" y="2217">01/09 00:08:20</text><text x="1042.3" y="2217">01/09 00:08:25</text><text x="1398.2" y="2217">01/09 00:08:30</text>
<text transform="translate(57,2083) rotate(-90)">Vsw(km/s)</text>
</g>

<!-- ================= TS4: Plasma Beta ================= -->
<g class="z" transform="translate(0,1940) scale(1.148,0.4337)">
<polyline class="dl" stroke="#00f" points="102,1209 164,1165 226,1210 288,1244 350,1147 412,1036 474,1188 536,1248 598,1298 660,1090 722,865 784,1007 846,1162 908,1322 970,1258 1032,1188 1094,1176 1156,1176 1218,1212 1280,1242 1342,1150 1404,1240 1466,1322"/>
</g>
<rect class="ax" x="117" y="2306.5" width="1566" height="221.6"/>
<path class="tk" d="M330.5 2528.1v-7M686.4 2528.1v-7M1042.3 2528.1v-7M1398.2 2528.1v-7M330.5 2306.5v7M686.4 2306.5v7M1042.3 2306.5v7M1398.2 2306.5v7M117 2334.2h7M117 2361.9h7M117 2389.6h7M117 2417.3h7M117 2445h7M117 2472.7h7M117 2500.4h7M1683 2334.2h-7M1683 2361.9h-7M1683 2389.6h-7M1683 2417.3h-7M1683 2445h-7M1683 2472.7h-7M1683 2500.4h-7"/>
<text class="title" x="900" y="2297">Plasma Beta</text>
<g class="t16" text-anchor="end">
<text x="109" y="2312.3">0.24</text><text x="109" y="2340">0.22</text><text x="109" y="2367.7">0.20</text><text x="109" y="2395.4">0.18</text><text x="109" y="2423.1">0.16</text><text x="109" y="2450.8">0.14</text><text x="109" y="2478.5">0.12</text><text x="109" y="2506.2">0.10</text><text x="109" y="2533.9">0.08</text>
</g>
<g class="t16" text-anchor="middle">
<text x="330.5" y="2551.5">01/09 00:08:15</text><text x="686.4" y="2551.5">01/09 00:08:20</text><text x="1042.3" y="2551.5">01/09 00:08:25</text><text x="1398.2" y="2551.5">01/09 00:08:30</text>
<text transform="translate(52,2417.3) rotate(-90)"><tspan class="m" font-size="15">β</tspan><tspan class="m" font-size="11" dy="3">p</tspan></text>
</g>

<!-- ================= TS5: Proton Number Density ================= -->
<g class="z" transform="translate(0,2620) scale(1.148,0.4337)">
<polyline class="dl" stroke="#00f" points="102,314 164,316 226,339 288,363 350,239 412,113 474,332 536,376 598,419 660,258 722,97 784,211 846,325 908,519 970,432 1032,346 1094,340 1156,334 1218,365 1280,395 1342,279 1404,367 1466,455"/>
</g>
<rect class="ax" x="117" y="2638.6" width="1566" height="222.1"/>
<path class="tk" d="M330.5 2860.7v-7M686.4 2860.7v-7M1042.3 2860.7v-7M1398.2 2860.7v-7M330.5 2638.6v7M686.4 2638.6v7M1042.3 2638.6v7M1398.2 2638.6v7M117 2663.3h7M117 2688h7M117 2712.6h7M117 2737.3h7M117 2762h7M117 2786.7h7M117 2811.4h7M117 2836h7M1683 2663.3h-7M1683 2688h-7M1683 2712.6h-7M1683 2737.3h-7M1683 2762h-7M1683 2786.7h-7M1683 2811.4h-7M1683 2836h-7"/>
<text class="title" x="900" y="2629">Proton Number Density</text>
<g class="t16" text-anchor="end">
<text x="109" y="2644.4">39</text><text x="109" y="2669.1">38</text><text x="109" y="2693.8">37</text><text x="109" y="2718.4">36</text><text x="109" y="2743.1">35</text><text x="109" y="2767.8">34</text><text x="109" y="2792.5">33</text><text x="109" y="2817.2">32</text><text x="109" y="2841.8">31</text><text x="109" y="2866.5">30</text>
</g>
<g class="t16" text-anchor="middle">
<text x="330.5" y="2884.5">01/09 00:08:15</text><text x="686.4" y="2884.5">01/09 00:08:20</text><text x="1042.3" y="2884.5">01/09 00:08:25</text><text x="1398.2" y="2884.5">01/09 00:08:30</text>
<text transform="translate(72,2749.6) rotate(-90)">Np(#/cc)</text>
</g>

<!-- ================= TS6: Proton Temperature ================= -->
<g class="z" transform="translate(0,2620) scale(1.148,0.4337)">
<polyline class="dl" stroke="#00f" points="102,1191 164,1138 226,1180 288,1221 350,1130 412,1040 474,1163 536,1222 598,1281 660,1060 722,837 784,983 846,1128 908,1298 970,1224 1032,1150 1094,1143 1156,1135 1218,1171 1280,1207 1342,1114 1404,1210 1466,1306"/>
</g>
<rect class="ax" x="117" y="2972.6" width="1566" height="222"/>
<path class="tk" d="M330.5 3194.6v-7M686.4 3194.6v-7M1042.3 3194.6v-7M1398.2 3194.6v-7M330.5 2972.6v7M686.4 2972.6v7M1042.3 2972.6v7M1398.2 2972.6v7M117 2997.3h7M117 3021.9h7M117 3046.6h7M117 3071.3h7M117 3096h7M117 3120.6h7M117 3145.3h7M117 3170h7M1683 2997.3h-7M1683 3021.9h-7M1683 3046.6h-7M1683 3071.3h-7M1683 3096h-7M1683 3120.6h-7M1683 3145.3h-7M1683 3170h-7"/>
<rect x="124" y="2980" width="71.2" height="27.3" fill="#fff" stroke="#000" stroke-width="2.3"/>
<line x1="135.5" y1="2992.5" x2="156.1" y2="2992.5" stroke="#00f" stroke-width="2.5"/>
<text class="lg" x="170" y="2997.7">Tp</text>
<text class="title" x="900" y="2963">Proton Temperature and <tspan class="m">T</tspan><tspan class="m" font-size="14" dy="4">e</tspan><tspan class="m" dy="-4">/T</tspan><tspan class="m" font-size="14" dy="4">p</tspan></text>
<g class="t16" text-anchor="end">
<text x="109" y="2978.4">0.080</text><text x="109" y="3003.1">0.075</text><text x="109" y="3027.7">0.070</text><text x="109" y="3052.4">0.065</text><text x="109" y="3077.1">0.060</text><text x="109" y="3101.8">0.055</text><text x="109" y="3126.4">0.050</text><text x="109" y="3151.1">0.045</text><text x="109" y="3175.8">0.040</text><text x="109" y="3200.4">0.035</text>
</g>
<g class="t16" text-anchor="middle">
<text x="330.5" y="3218">01/09 00:08:15</text><text x="686.4" y="3218">01/09 00:08:20</text><text x="1042.3" y="3218">01/09 00:08:25</text><text x="1398.2" y="3218">01/09 00:08:30</text>
<text transform="translate(42,3083.6) rotate(-90)">Tp(10<tspan font-size="11" dy="-6">6</tspan><tspan dy="6">K)</tspan></text>
</g>
</svg>
</body></html>
